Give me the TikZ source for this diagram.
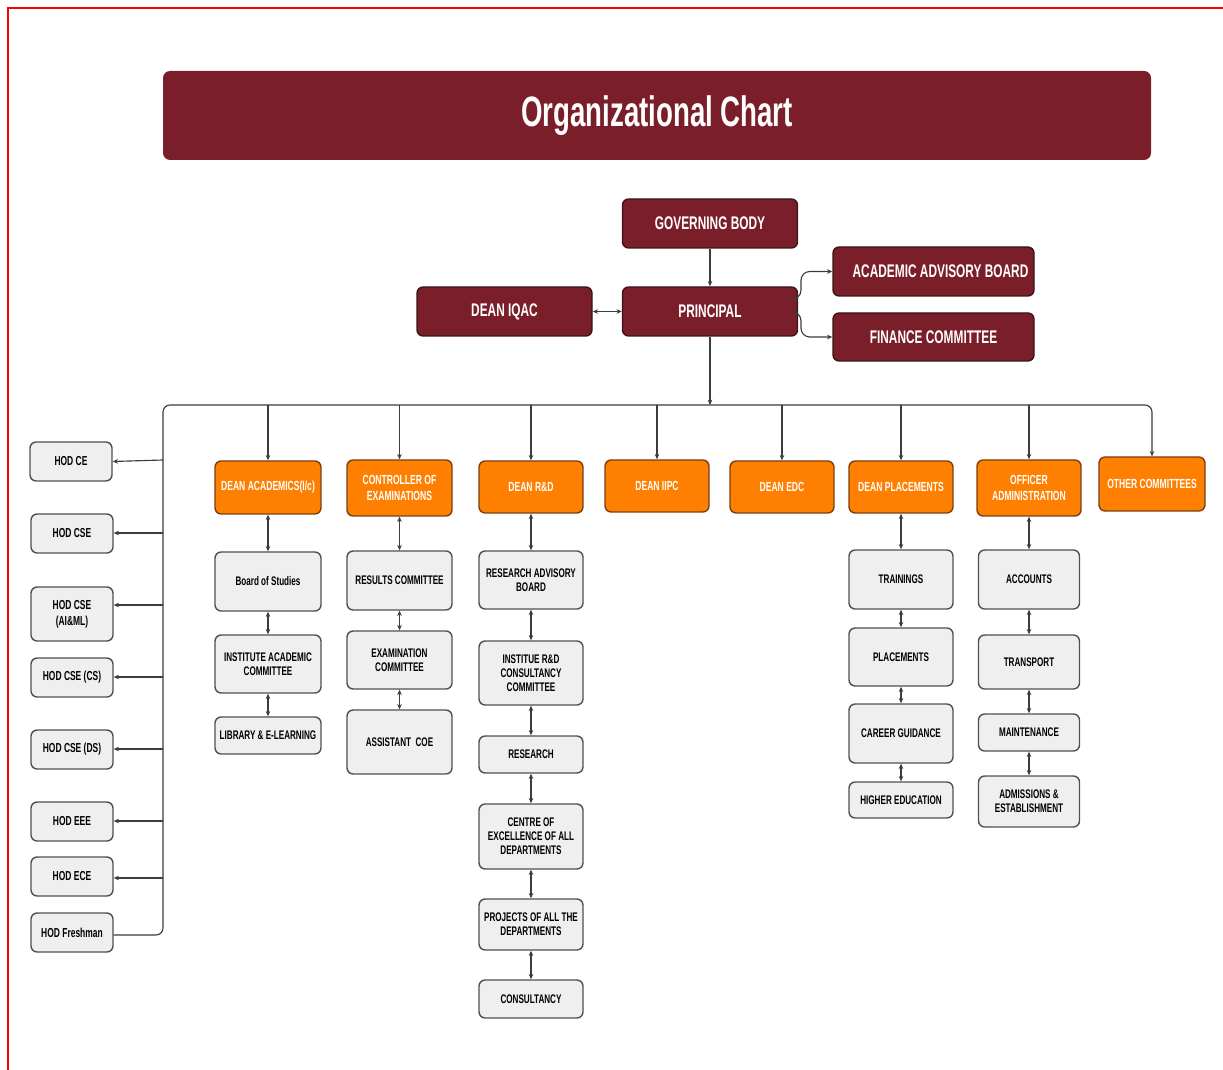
\documentclass[tikz,border=0pt]{standalone}
\usepackage{fontspec}
\setmainfont{Liberation Sans}[FakeStretch=0.65]
\usetikzlibrary{arrows.meta}
\definecolor{cmaroon}{HTML}{7A1F2A}
\definecolor{cdkred}{HTML}{3A1418}
\definecolor{corange}{HTML}{FF8000}
\definecolor{cdkorange}{HTML}{7A4010}
\definecolor{cgrey}{HTML}{EFEFEF}
\definecolor{cgborder}{HTML}{505050}
\definecolor{cline}{HTML}{3C3C3C}
\begin{document}
\begin{tikzpicture}[x=0.02cm,y=-0.02cm,
  sz/.style 2 args={minimum width={#1*0.02cm}, minimum height={#2*0.02cm}},
  base/.style={rounded corners=3.5pt, inner sep=1pt, align=center, line width=0.8pt},
  redbox/.style={base, fill=cmaroon, draw=cdkred, text=white, font=\bfseries\fontsize{10.4}{12}\selectfont},
  orbox/.style={base, fill=corange, draw=cdkorange, text=white, font=\bfseries\fontsize{7.5}{9}\selectfont},
  gbox/.style={base, fill=cgrey, draw=cgborder, text=black, font=\bfseries\fontsize{7.1}{8}\selectfont},
  hod/.style={gbox, font=\bfseries\fontsize{7.4}{9}\selectfont},
  conn/.style={draw=cline, line width=0.65pt},
  one/.style={conn, -{Stealth[length=3pt,width=2.6pt]}},
  two/.style={conn, {Stealth[length=3pt,width=2.6pt]}-{Stealth[length=3pt,width=2.6pt]}}
]
\useasboundingbox (0,0) rectangle (1223,1070);
\draw[red, line width=1.2pt] (8,1070) -- (8,8) -- (1223,8);

% title
\node[fill=cmaroon, rounded corners=4pt, sz={988}{89}, text=white,
      font=\bfseries\fontsize{24.2}{28}\selectfont] (title) at (657,115.5) {Organizational Chart};

% top level
\node[redbox, sz={175}{49}] (gov) at (710,223.5) {GOVERNING BODY};
\node[redbox, sz={175}{49}] (principal) at (710,311.5) {PRINCIPAL};
\node[redbox, sz={175}{49}] (iqac) at (504.5,311.5) {DEAN IQAC};
\node[redbox, sz={201}{49}] (aab) at (933.5,271.5) {\hspace*{8pt}ACADEMIC ADVISORY BOARD};
\node[redbox, sz={201}{48}] (fin) at (933.5,337) {FINANCE COMMITTEE};

% HODs
\node[hod, sz={82}{39}] (hce) at (71,461.5) {HOD CE};
\node[hod, sz={82}{39}] (hcse) at (72,533.5) {HOD CSE};
\node[hod, sz={82}{54}] (haiml) at (72,614) {HOD CSE\\(AI\&ML)};
\node[hod, sz={82}{39}] (hcs) at (72,677.5) {HOD CSE (CS)};
\node[hod, sz={82}{39}] (hds) at (72,749.5) {HOD CSE (DS)};
\node[hod, sz={82}{39}] (heee) at (72,821.5) {HOD EEE};
\node[hod, sz={82}{39}] (hece) at (72,876.5) {HOD ECE};
\node[hod, sz={82}{39}] (hfr) at (72,932.5) {HOD Freshman};

% orange heads
\node[orbox, sz={106}{53}] (dacad) at (268,487.5) {DEAN ACADEMICS(I/c)};
\node[orbox, sz={105}{56}] (coe) at (399.5,488) {CONTROLLER OF\\EXAMINATIONS};
\node[orbox, sz={104}{52}] (drd) at (531,487) {DEAN R\&D};
\node[orbox, sz={104}{52}] (iipc) at (657,486) {DEAN IIPC};
\node[orbox, sz={104}{52}] (edc) at (782,487) {DEAN EDC};
\node[orbox, sz={104}{52}] (dplace) at (901,487) {DEAN PLACEMENTS};
\node[orbox, sz={104}{56}] (offadm) at (1029,488) {OFFICER\\ADMINISTRATION};
\node[orbox, sz={106}{54}] (other) at (1152,484) {OTHER COMMITTEES};

% academics column
\node[gbox, sz={106}{59}] (bos) at (268,581.5) {Board of Studies};
\node[gbox, sz={106}{58}] (iac) at (268,664) {INSTITUTE ACADEMIC\\COMMITTEE};
\node[gbox, sz={106}{37}] (lib) at (268,735.5) {LIBRARY \& E-LEARNING};
% examinations column
\node[gbox, sz={105}{59}] (res) at (399.5,580.5) {RESULTS COMMITTEE};
\node[gbox, sz={105}{58}] (exc) at (399.5,660) {EXAMINATION\\COMMITTEE};
\node[gbox, sz={105}{64}] (acoe) at (399.5,742) {ASSISTANT~~COE};
% R&D column
\node[gbox, sz={104}{58}] (rab) at (531,580) {RESEARCH ADVISORY\\BOARD};
\node[gbox, sz={104}{64}] (irdc) at (531,673) {INSTITUE R\&D\\CONSULTANCY\\COMMITTEE};
\node[gbox, sz={104}{37}] (research) at (531,754.5) {RESEARCH};
\node[gbox, sz={104}{65}] (coeall) at (531,836.5) {CENTRE OF\\EXCELLENCE OF ALL\\DEPARTMENTS};
\node[gbox, sz={104}{51}] (proj) at (531,924.5) {PROJECTS OF ALL THE\\DEPARTMENTS};
\node[gbox, sz={104}{38}] (cons) at (531,999) {CONSULTANCY};
% placements column
\node[gbox, sz={104}{59}] (train) at (901,579.5) {TRAININGS};
\node[gbox, sz={104}{58}] (plac) at (901,657) {PLACEMENTS};
\node[gbox, sz={104}{59}] (career) at (901,733.5) {CAREER GUIDANCE};
\node[gbox, sz={104}{36}] (higher) at (901,800) {HIGHER EDUCATION};
% administration column
\node[gbox, sz={101}{59}] (acc) at (1029,579.5) {ACCOUNTS};
\node[gbox, sz={101}{54}] (trans) at (1029,662) {TRANSPORT};
\node[gbox, sz={101}{37}] (maint) at (1029,732.5) {MAINTENANCE};
\node[gbox, sz={101}{51}] (adm) at (1029,801.5) {ADMISSIONS \&\\ESTABLISHMENT};

% top connectors
\draw[one] (gov) -- (principal);
\draw[two] (principal) -- (iqac);
\draw[two, rounded corners=5pt] (principal.east |- 0,299) -- (801,299) -- (801,271.5) -- (aab.west);
\draw[two, rounded corners=5pt] (principal.east |- 0,312) -- (801,312) -- (801,337) -- (fin.west);
\coordinate (bus) at (710,405);
\draw[one] (principal) -- (bus);

% bus
\draw[one, rounded corners=4pt] (hfr.east |- 0,935) -- (163,935) -- (163,405) -- (1152,405) -- (other.north);

% drops to heads
\foreach \n in {dacad,coe,drd,iipc,edc,dplace,offadm}
  \draw[one] (\n.north |- 0,405) -- (\n.north);

% HOD connectors
\draw[one] (163,460) -- (hce.east);
\draw[one] (163,533) -- (hcse.east |- 0,533);
\draw[one] (163,605) -- (haiml.east |- 0,605);
\draw[one] (163,677) -- (hcs.east |- 0,677);
\draw[one] (163,749) -- (hds.east |- 0,749);
\draw[one] (163,821) -- (heee.east |- 0,821);
\draw[one] (163,878) -- (hece.east |- 0,878);

% chains
\draw[two] (dacad) -- (bos);
\draw[two] (bos) -- (iac);
\draw[two] (iac) -- (lib);
\draw[two] (coe) -- (res);
\draw[two] (res) -- (exc);
\draw[two] (exc) -- (acoe);
\draw[two] (drd) -- (rab);
\draw[two] (rab) -- (irdc);
\draw[two] (irdc) -- (research);
\draw[two] (research) -- (coeall);
\draw[two] (coeall) -- (proj);
\draw[two] (proj) -- (cons);
\draw[two] (dplace) -- (train);
\draw[two] (train) -- (plac);
\draw[two] (plac) -- (career);
\draw[two] (career) -- (higher);
\draw[two] (offadm) -- (acc);
\draw[two] (acc) -- (trans);
\draw[two] (trans) -- (maint);
\draw[two] (maint) -- (adm);
\end{tikzpicture}
\end{document}
